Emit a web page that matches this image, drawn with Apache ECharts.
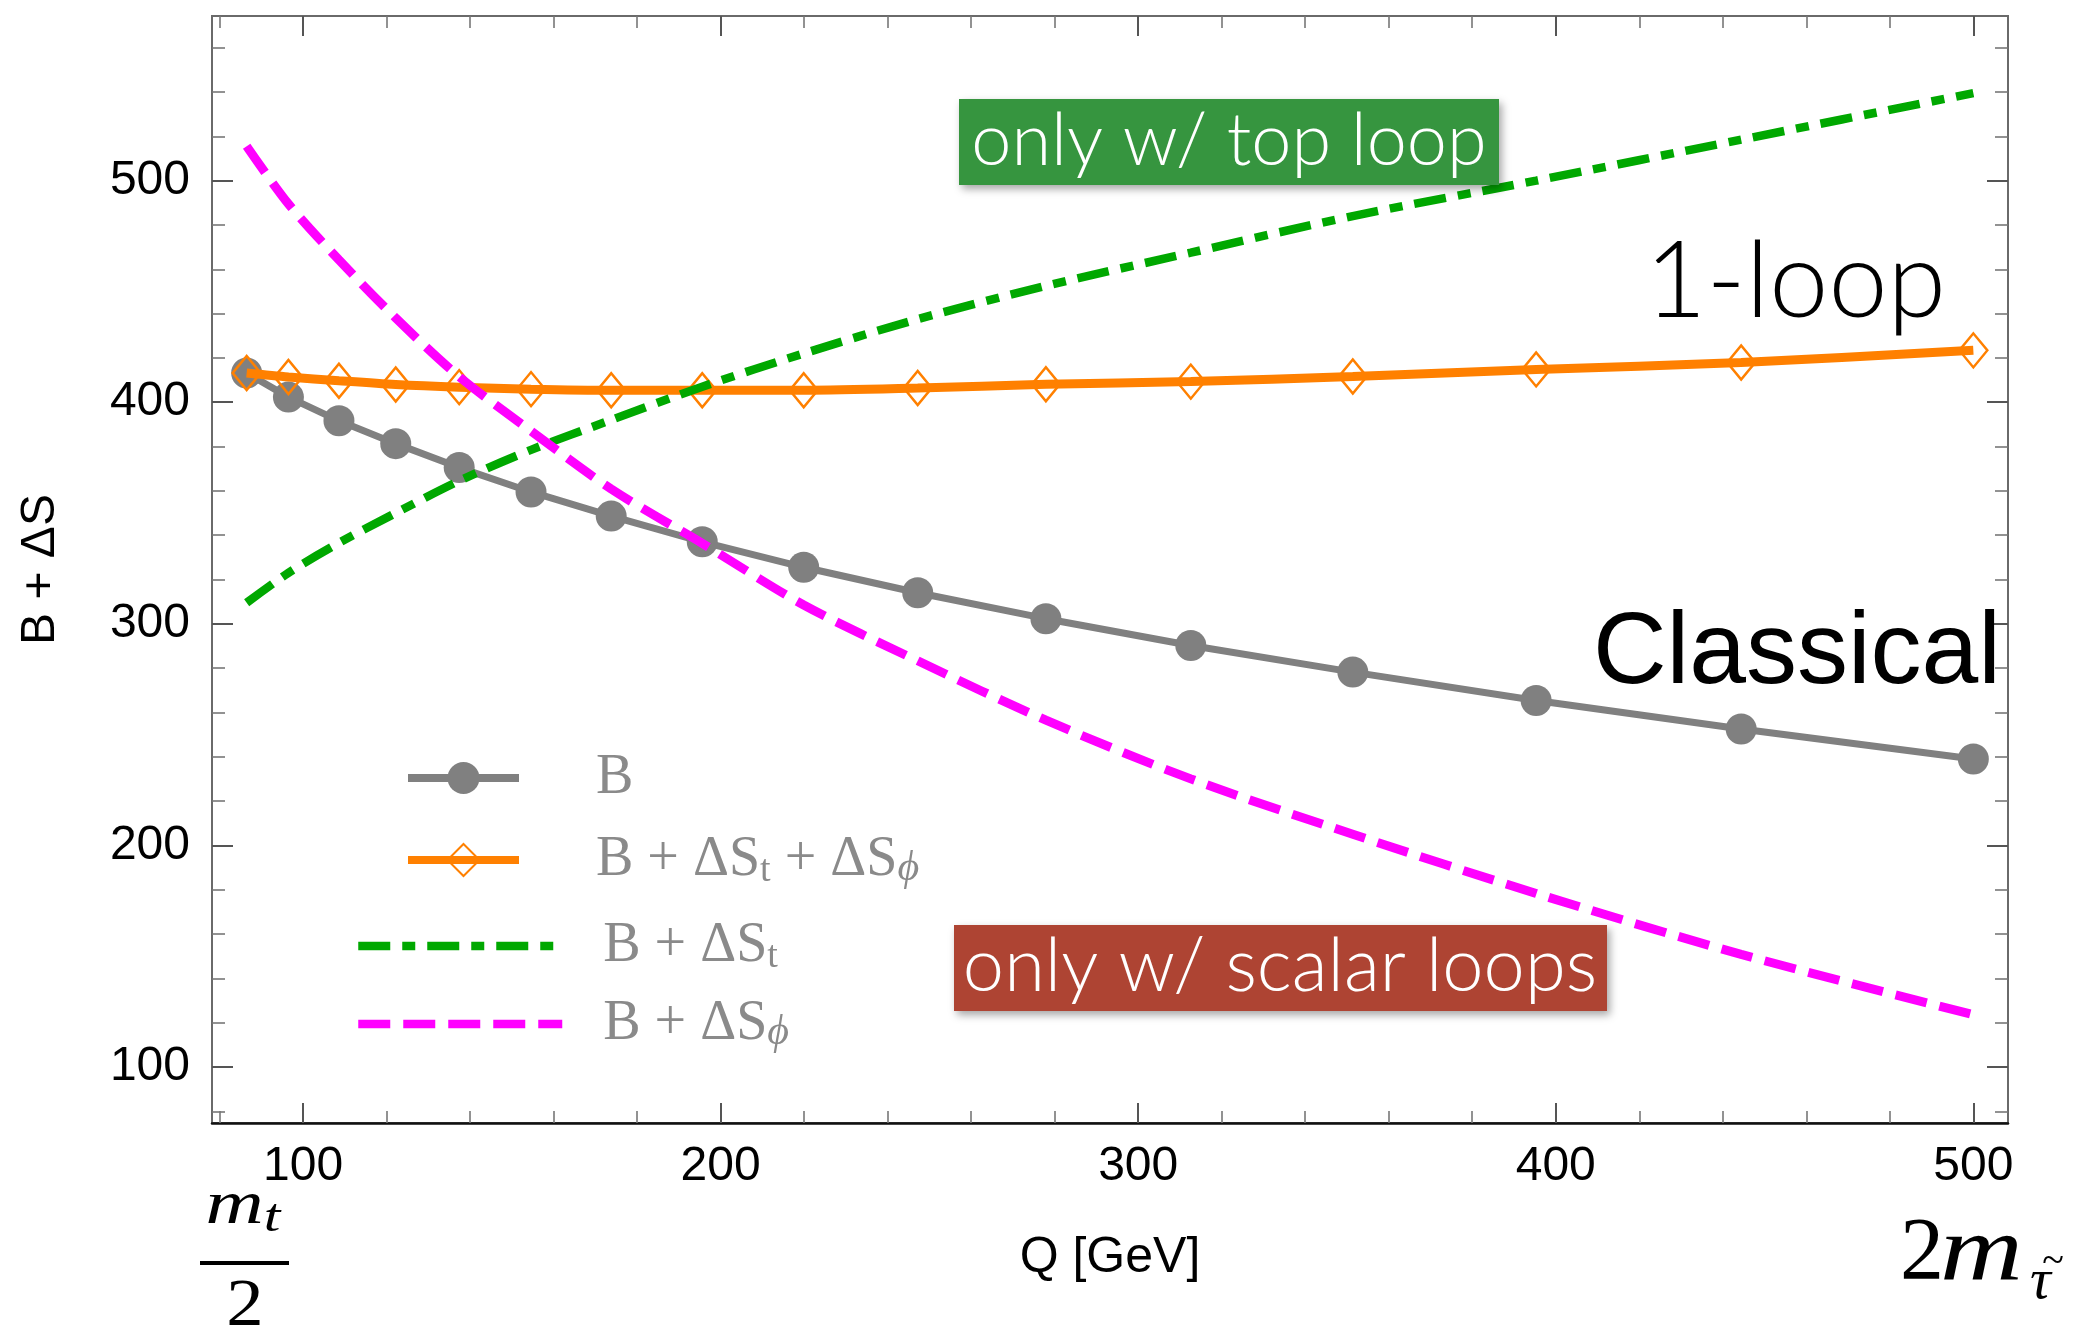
<!DOCTYPE html>
<html><head><meta charset="utf-8">
<script src="https://cdn.jsdelivr.net/npm/echarts@6/dist/echarts.min.js"></script>
<style>html,body{margin:0;padding:0;background:#fff}#c{width:2082px;height:1331px}</style>
</head><body><div id="c"></div>
<script>
// ---------- data ----------
const Q = [86.5, 96.5, 108.6, 122.2, 137.4, 154.6, 173.8, 195.6, 219.9, 247.2, 277.9, 312.6, 351.4, 395.3, 444.4, 500];
const B = [413.2, 402.3, 391.6, 381.3, 370.5, 359.5, 348.6, 337.0, 325.5, 314.0, 302.3, 290.2, 278.2, 265.4, 252.5, 239.0];
const B_St_Sphi = [413.2, 411.4, 409.7, 408.0, 406.8, 405.9, 405.4, 405.4, 405.4, 406.4, 408.1, 409.3, 411.6, 414.8, 417.9, 423.4];
const B_St = [309.5, 323.0, 336.5, 350.0, 364.5, 378.5, 392.0, 407.0, 422.0, 437.5, 452.5, 467.5, 484.0, 500.0, 518.5, 539.5];
const B_Sphi = [515.5, 489.5, 464.2, 438.0, 411.5, 387.0, 360.8, 336.3, 308.5, 283.3, 256.5, 230.0, 205.0, 178.3, 150.8, 123.6];
const seriesNames = ['B', 'B + ΔSt + ΔSφ', 'B + ΔSt', 'B + ΔSφ'];
const xMajorTicks = [100, 200, 300, 400, 500];
const xMinorTicks = [80, 120, 140, 160, 180, 220, 240, 260, 280, 320, 340, 360, 380, 420, 440, 460, 480];
const yMajorTicks = [100, 200, 300, 400, 500];
const yMinorTicks = [80, 120, 140, 160, 180, 220, 240, 260, 280, 320, 340, 360, 380, 420, 440, 460, 480, 520, 540, 560];
const X_MIN = 78.2, X_MAX = 508.3, Y_MIN = 74.7, Y_MAX = 574.3;

const chart = echarts.init(document.getElementById('c'), null, {renderer: 'canvas'});
const SANS = '"Liberation Sans", Arial, Helvetica, sans-serif';
const SERIF = '"Liberation Serif", "Times New Roman", serif';
const BOXFONT = 'Lato, "Open Sans", sans-serif';
const tickCol = '#555';

function pair(arr) { return Q.map((x, i) => [x, arr[i]]); }

function xAx(pos, ticks, len, major) {
  return {
    type: 'value', position: pos, min: X_MIN, max: X_MAX,
    axisLine: {show: false},
    axisTick: {show: true, inside: true, length: len, customValues: ticks,
      lineStyle: {color: major ? tickCol : '#777', width: major ? 2 : 1.6}},
    axisLabel: {show: false}, splitLine: {show: false}
  };
}
function yAx(pos, ticks, len, major) {
  return {
    type: 'value', position: pos, min: Y_MIN, max: Y_MAX,
    axisLine: {show: false},
    axisTick: {show: true, inside: true, length: len, customValues: ticks,
      lineStyle: {color: major ? tickCol : '#777', width: major ? 2 : 1.6}},
    axisLabel: {show: false}, splitLine: {show: false}
  };
}

const xMain = xAx('bottom', xMajorTicks, 20, true);
xMain.axisLine = {show: true, onZero: false, lineStyle: {color: '#111', width: 2.5}};
xMain.axisLabel = {show: true, customValues: xMajorTicks, margin: 20, fontSize: 48, color: '#000', fontFamily: SANS};
xMain.name = 'Q [GeV]';
xMain.nameLocation = 'middle';
xMain.nameGap = 110;
xMain.nameTextStyle = {fontSize: 50, color: '#000', fontFamily: SANS};

const yMain = yAx('left', yMajorTicks, 21, true);
yMain.axisLabel = {show: true, customValues: yMajorTicks, margin: 22, fontSize: 48, color: '#000', fontFamily: SANS};
yMain.name = 'B + ΔS';
yMain.nameLocation = 'middle';
yMain.nameGap = 147;
yMain.nameTextStyle = {fontSize: 48, color: '#000', fontFamily: SANS};

const richLegend = {
  n: {fontFamily: SERIF, fontSize: 56, color: '#8a8a8a', lineHeight: 60},
  s: {fontFamily: SERIF, fontSize: 38, color: '#8a8a8a', lineHeight: 26, verticalAlign: 'bottom'},
  p: {fontFamily: SERIF, fontStyle: 'italic', fontSize: 42, color: '#8a8a8a', lineHeight: 20, verticalAlign: 'bottom'},
  sp1: {width: 72, lineHeight: 60},
  sp2: {width: 36, lineHeight: 60}
};
const legendText = {
  'B': '{n|B}',
  'B + ΔSt + ΔSφ': '{n|B + ΔS}{s|t}{n| + ΔS}{p|ϕ}',
  'B + ΔSt': '{n|B + ΔS}{s|t}',
  'B + ΔSφ': '{n|B + ΔS}{p|ϕ}'
};
const hiddenSymbol = {color: 'rgba(0,0,0,0)', borderWidth: 0, opacity: 0};

const option = {
  animation: false,
  backgroundColor: '#fff',
  grid: {left: 212, top: 16, width: 1796, height: 1107, show: true, borderColor: '#6a6a6a', borderWidth: 2,
         containLabel: false, outerBoundsMode: 'none'},
  xAxis: [xMain, xAx('bottom', xMinorTicks, 12, false), xAx('top', xMajorTicks, 20, true), xAx('top', xMinorTicks, 12, false)],
  yAxis: [yMain, yAx('left', yMinorTicks, 13, false), yAx('right', yMajorTicks, 21, true), yAx('right', yMinorTicks, 13, false)],
  legend: [
    {data: [seriesNames[0], seriesNames[1]], orient: 'vertical', left: 404, top: 750, padding: 0,
     itemWidth: 111, itemHeight: 40, itemGap: 26, selectedMode: false,
     lineStyle: {width: 8},
     formatter: n => '{sp1|}' + legendText[n], textStyle: {rich: richLegend}},
    {data: [{name: seriesNames[2], itemStyle: hiddenSymbol}, {name: seriesNames[3], itemStyle: hiddenSymbol}],
     orient: 'vertical', left: 354, top: 918, padding: 0,
     itemWidth: 204, itemHeight: 38, itemGap: 20, selectedMode: false,
     lineStyle: {width: 8.5},
     formatter: n => '{sp2|}' + legendText[n], textStyle: {rich: richLegend}}
  ],
  series: [
    {name: seriesNames[0], type: 'line', data: pair(B), symbol: 'circle', symbolSize: 31,
     lineStyle: {color: '#808080', width: 7}, itemStyle: {color: '#808080'}, z: 2},
    {name: seriesNames[1], type: 'line', data: pair(B_St_Sphi), symbol: 'diamond', symbolSize: [28, 34],
     smooth: 0.3, lineStyle: {color: '#ff8000', width: 9},
     itemStyle: {color: 'rgba(255,255,255,0)', borderColor: '#ff8000', borderWidth: 2.5}, z: 3},
    {name: seriesNames[2], type: 'line', data: pair(B_St), symbol: 'none', smooth: 0.3,
     lineStyle: {color: '#00a800', width: 8.5, type: [32, 12, 13, 12], cap: 'butt'}, itemStyle: {color: '#00a800'}, z: 4},
    {name: seriesNames[3], type: 'line', data: pair(B_Sphi), symbol: 'none', smooth: 0.3,
     lineStyle: {color: '#ff00ff', width: 9, type: [32, 13], cap: 'butt'}, itemStyle: {color: '#ff00ff'}, z: 5}
  ],
  graphic: [
    // annotation boxes
    {type: 'rect', shape: {x: 959, y: 99, width: 540, height: 86}, z: 10,
     style: {fill: '#36953f', shadowBlur: 8, shadowColor: 'rgba(0,0,0,0.35)', shadowOffsetX: 3, shadowOffsetY: 4}},
    {type: 'text', z: 11, style: {text: 'only w/ top loop', x: 1229, y: 142, align: 'center', verticalAlign: 'middle',
     fill: '#fff', font: '300 72px ' + BOXFONT}},
    {type: 'rect', shape: {x: 954, y: 925, width: 653, height: 86}, z: 10,
     style: {fill: '#ae4433', shadowBlur: 8, shadowColor: 'rgba(0,0,0,0.35)', shadowOffsetX: 3, shadowOffsetY: 4}},
    {type: 'text', z: 11, style: {text: 'only w/ scalar loops', x: 1280, y: 967, align: 'center', verticalAlign: 'middle',
     fill: '#fff', font: '300 74px ' + BOXFONT}},
    {type: 'text', z: 11, style: {text: '1-loop', x: 1946, y: 283, align: 'right', verticalAlign: 'middle',
     fill: '#000', font: '300 106px ' + BOXFONT}},
    {type: 'text', z: 11, style: {text: 'Classical', x: 2001, y: 655, align: 'right', verticalAlign: 'middle',
     fill: '#000', font: '102px ' + SANS}},
    // m_t / 2 under the start of the axis
    {type: 'text', z: 11, x: 243, y: 1207, scaleX: 1.3, style: {text: '{m|m}{t|t}', x: 0, y: 0, align: 'center', verticalAlign: 'middle',
     rich: {m: {fontFamily: SERIF, fontStyle: 'italic', fontSize: 62, lineHeight: 70, fill: '#000'},
            t: {fontFamily: SERIF, fontStyle: 'italic', fontSize: 46, lineHeight: 24, verticalAlign: 'bottom', fill: '#000'}}}},
    {type: 'line', z: 11, shape: {x1: 200, y1: 1263, x2: 289, y2: 1263}, style: {stroke: '#000', lineWidth: 4}},
    {type: 'text', z: 11, x: 245, y: 1307, scaleX: 1.1, style: {text: '2', x: 0, y: 0, align: 'center', verticalAlign: 'middle',
     fill: '#000', font: '68px ' + SERIF}},
    // 2 m_stau at the end of the axis
    {type: 'text', z: 11, style: {text: '2', x: 1900, y: 1255, align: 'left', verticalAlign: 'middle',
     fill: '#000', font: '88px ' + SERIF}},
    {type: 'text', z: 11, x: 1940, y: 1255, scaleX: 1.22, style: {text: 'm', x: 0, y: 0, align: 'left', verticalAlign: 'middle',
     fill: '#000', font: 'italic 94px ' + SERIF}},
    {type: 'text', z: 11, style: {text: 'τ', x: 2030, y: 1283, align: 'left', verticalAlign: 'middle',
     fill: '#000', font: 'italic 58px ' + SERIF}},
    {type: 'text', z: 11, style: {text: '~', x: 2053, y: 1262, align: 'center', verticalAlign: 'middle',
     fill: '#000', font: '40px ' + SERIF}}
  ]
};
chart.setOption(option);
</script></body></html>
